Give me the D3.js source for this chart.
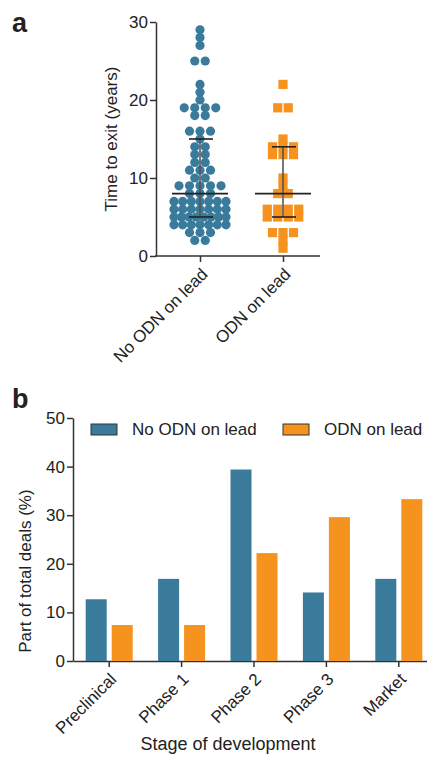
<!DOCTYPE html>
<html>
<head>
<meta charset="utf-8">
<script src="https://cdn.jsdelivr.net/npm/d3@7"></script>
<style>
  body { margin: 0; background: #fff; }
  text { font-family: "Liberation Sans", Arial, sans-serif; fill: #222; }
</style>
</head>
<body>
<div class="chart"></div>
<script>
// panel a: time to exit (years), one value per deal
const groups = ['No ODN on lead', 'ODN on lead']
const noOdnYears = [29, 28, 27, 25, 25, 22, 21, 20, 19, 19, 19, 19, 18, 18, 16, 16, 16, 15, 14, 14,
    13, 13, 12, 12, 11, 11, 11, 10, 10, 9, 9, 9, 9, 9, 8, 8, 8, 7, 7, 7, 7, 7, 7, 7,
    6, 6, 6, 6, 6, 6, 6, 5, 5, 5, 5, 5, 5, 5, 5, 4, 4, 4, 4, 4, 4, 4, 3, 3, 3, 2, 2]
const odnYears = [22, 19, 19, 15, 14, 14, 14, 13, 13, 13, 10, 9, 8, 8, 6, 6, 6, 6, 5, 5, 5, 5, 3, 3, 3, 2, 1]
const medians = [8, 8]
const lowerQ = [5, 5]
const upperQ = [15, 14]
const yTicksA = [0, 10, 20, 30]

// panel b: part of total deals (%)
const stages = ['Preclinical', 'Phase 1', 'Phase 2', 'Phase 3', 'Market']
const series = ['No ODN on lead', 'ODN on lead']
const noOdnPct = [12.7, 16.9, 39.4, 14.1, 16.9]
const odnPct = [7.4, 7.4, 22.2, 29.6, 33.3]
const yTicksB = [0, 10, 20, 30, 40, 50]

const colors = ['#3a7b9b', '#f6921e']
const ink = '#333'
const fs = '17px'

const svg = d3.select('.chart').append('svg')
    .attr('width', 427)
    .attr('height', 758)

function styleAxis(g) {
    g.selectAll('.domain').attr('stroke', ink).attr('stroke-width', 1.5)
    g.selectAll('.tick line').attr('stroke', ink).attr('stroke-width', 1.5)
    g.selectAll('.tick text').style('font-size', fs).attr('fill', '#222')
}

function slantLabels(g) {
    g.selectAll('.tick text')
        .attr('x', 0).attr('y', 0)
        .attr('dy', '0.35em')
        .attr('text-anchor', 'end')
        .attr('transform', 'translate(4,15) rotate(-45)')
}

// ---------- panel a ----------
svg.append('text').attr('x', 12).attr('y', 32)
    .style('font-size', '27px').style('font-weight', 'bold').text('a')

const yA = d3.scaleLinear().domain([0, 30]).range([256, 22])
const xA = d3.scalePoint().domain(groups).range([200, 283])

svg.append('g')
    .attr('transform', 'translate(156,0)')
    .call(d3.axisLeft(yA).tickValues(yTicksA).tickSize(6).tickSizeOuter(0).tickPadding(2))
    .call(styleAxis)

const xAxisA = svg.append('g')
    .attr('transform', 'translate(0,256)')
    .call(d3.axisBottom(xA).tickSize(6).tickSizeOuter(0))
    .call(styleAxis)
    .call(slantLabels)
xAxisA.select('.domain').remove()
xAxisA.append('line')
    .attr('x1', 155).attr('x2', 320)
    .attr('stroke', ink).attr('stroke-width', 1.5)

svg.append('text')
    .attr('transform', `translate(117,${yA(15)}) rotate(-90)`)
    .attr('text-anchor', 'middle')
    .style('font-size', fs)
    .text('Time to exit (years)')

// spread points of equal value side by side
function spread(values) {
    const counts = d3.rollup(values, v => v.length, d => d)
    const seen = new Map()
    return values.map(v => {
        const n = counts.get(v)
        const i = seen.get(v) || 0
        seen.set(v, i + 1)
        const gap = n > 1 ? Math.min(10.5, 52 / (n - 1)) : 0
        return { value: v, dx: (i - (n - 1) / 2) * gap }
    })
}

const pointsA = [spread(noOdnYears), spread(odnYears)]

svg.append('g').selectAll('circle')
    .data(pointsA[0])
    .join('circle')
    .attr('cx', d => xA(groups[0]) + d.dx)
    .attr('cy', d => yA(d.value))
    .attr('r', 4.6)
    .attr('fill', colors[0])

svg.append('g').selectAll('rect')
    .data(pointsA[1])
    .join('rect')
    .attr('x', d => xA(groups[1]) + d.dx - 4.6)
    .attr('y', d => yA(d.value) - 4.6)
    .attr('width', 9.2)
    .attr('height', 9.2)
    .attr('fill', colors[1])

// median with interquartile range
const summary = groups.map((g, i) => ({ g, med: medians[i], lo: lowerQ[i], hi: upperQ[i] }))
const bars = svg.append('g').attr('stroke', '#222').attr('stroke-width', 1.6)
summary.forEach(s => {
    const cx = xA(s.g)
    bars.append('line').attr('x1', cx).attr('x2', cx)
        .attr('y1', yA(s.lo)).attr('y2', yA(s.hi)).attr('stroke', '#555')
    bars.append('line').attr('x1', cx - 28).attr('x2', cx + 28)
        .attr('y1', yA(s.med)).attr('y2', yA(s.med))
    ;[s.lo, s.hi].forEach(v => {
        bars.append('line').attr('x1', cx - 11).attr('x2', cx + 13)
            .attr('y1', yA(v)).attr('y2', yA(v))
    })
})

// ---------- panel b ----------
svg.append('text').attr('x', 12).attr('y', 408)
    .style('font-size', '27px').style('font-weight', 'bold').text('b')

const yB = d3.scaleLinear().domain([0, 50]).range([661, 418])
const x0 = d3.scaleBand().domain(stages).range([73, 435])
const x1 = d3.scaleBand().domain(series).range([-23.5, 23.5]).paddingInner(0.192)

svg.append('g')
    .attr('transform', 'translate(73,0)')
    .call(d3.axisLeft(yB).tickValues(yTicksB).tickSize(6).tickSizeOuter(0).tickPadding(2))
    .call(styleAxis)

svg.append('g')
    .attr('transform', 'translate(0,661)')
    .call(d3.axisBottom(x0).tickSize(6).tickSizeOuter(0))
    .call(styleAxis)
    .call(slantLabels)

svg.append('text')
    .attr('transform', `translate(31,${yB(18.5)}) rotate(-90)`)
    .attr('text-anchor', 'middle')
    .style('font-size', fs)
    .text('Part of total deals (%)')

svg.append('text')
    .attr('x', 228).attr('y', 750)
    .attr('text-anchor', 'middle')
    .style('font-size', '18px')
    .text('Stage of development')

const barRows = stages.map((s, i) => ({ stage: s, values: [noOdnPct[i], odnPct[i]] }))

svg.append('g').selectAll('g')
    .data(barRows)
    .join('g')
    .attr('transform', d => `translate(${x0(d.stage) + x0.bandwidth() / 2},0)`)
    .selectAll('rect')
    .data(d => d.values.map((v, i) => ({ key: series[i], v, i })))
    .join('rect')
    .attr('x', d => x1(d.key))
    .attr('width', x1.bandwidth())
    .attr('y', d => yB(d.v))
    .attr('height', d => yB(0) - yB(d.v))
    .attr('fill', d => colors[d.i])

// legend
const legendX = [91, 283]
const legend = svg.append('g').selectAll('g')
    .data(series)
    .join('g')
    .attr('transform', (d, i) => `translate(${legendX[i]},424)`)
legend.append('rect')
    .attr('width', 26).attr('height', 11)
    .attr('fill', (d, i) => colors[i])
    .attr('stroke', '#333').attr('stroke-width', 1)
legend.append('text')
    .attr('x', 41).attr('y', 11)
    .style('font-size', fs)
    .text(d => d)
</script>
</body>
</html>
